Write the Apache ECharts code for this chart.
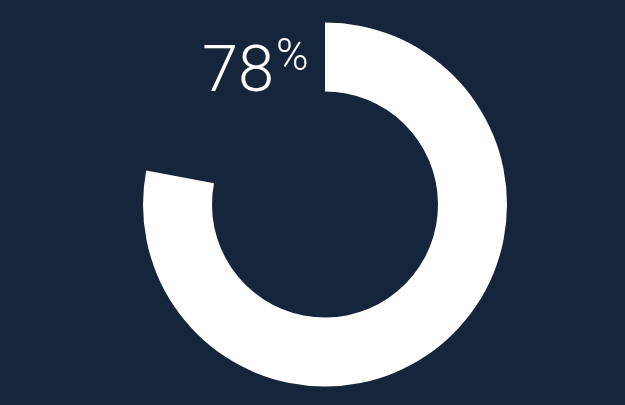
<!DOCTYPE html>
<html>
<head>
<meta charset="utf-8">
<script src="https://cdn.jsdelivr.net/npm/echarts@6/dist/echarts.min.js"></script>
<style>
html,body{margin:0;padding:0;background:#15253b;}
#chart{width:625px;height:405px;}
</style>
</head>
<body>
<div id="chart"></div>
<script>
const percentValue = 78;
const remainderValue = 100 - percentValue;
const percentLabel = String(percentValue);
const percentSign = '%';

const chart = echarts.init(document.getElementById('chart'), null, {renderer: 'canvas'});
chart.setOption({
  backgroundColor: '#15253b',
  animation: false,
  series: [{
    type: 'pie',
    center: [325, 204.5],
    radius: [113, 182],
    startAngle: 90,
    clockwise: true,
    silent: true,
    label: {show: false},
    labelLine: {show: false},
    emphasis: {disabled: true},
    data: [
      {value: percentValue, itemStyle: {color: '#ffffff'}},
      {value: remainderValue, itemStyle: {color: 'rgba(0,0,0,0)'}}
    ]
  }],
  graphic: [
    {
      type: 'text',
      left: 202,
      top: 42,
      style: {
        text: percentLabel,
        fill: '#ffffff',
        font: '300 65px Roboto'
      }
    },
    {
      type: 'text',
      left: 276,
      top: 37,
      style: {
        text: percentSign,
        fill: '#ffffff',
        font: '300 44px Roboto'
      }
    }
  ]
});
</script>
</body>
</html>
